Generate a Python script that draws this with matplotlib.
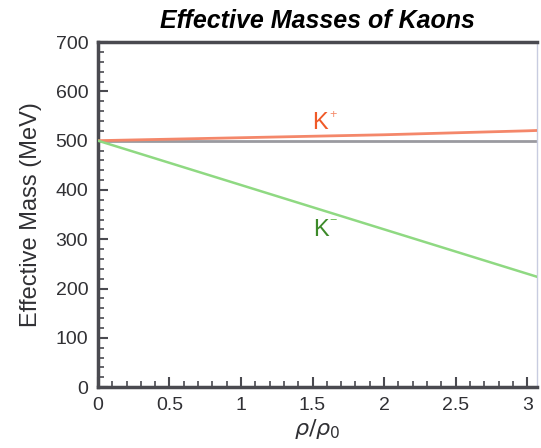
import matplotlib
matplotlib.use("Agg")
import matplotlib.pyplot as plt
from matplotlib.ticker import MultipleLocator

plt.rcParams['font.family'] = ['Liberation Sans', 'DejaVu Sans']

# density in units of normal nuclear density
density = [0.0, 0.5, 1.0, 1.5, 2.0, 2.5, 3.0, 3.1]
# effective masses (MeV)
kplus_mass = [500, 503, 506, 509, 512, 516, 520, 521]
kminus_mass = [500, 455, 410, 365, 320, 275, 230, 221]
vacuum_mass = [500, 500, 500, 500, 500, 500, 500, 500]

x_ticks = [0, 0.5, 1, 1.5, 2, 2.5, 3]
x_tick_labels = ["0", "0.5", "1", "1.5", "2", "2.5", "3"]
y_ticks = [0, 100, 200, 300, 400, 500, 600, 700]

fig = plt.figure(figsize=(5.41, 4.48), dpi=100)
ax = fig.add_axes([0.181, 0.136, 0.812, 0.77])

ax.plot(density, vacuum_mass, color="#9a9aa0", lw=2.0, zorder=2)
ax.plot(density, kplus_mass, color="#f4876a", lw=2.0, zorder=3)
ax.plot(density, kminus_mass, color="#8fd982", lw=1.8, zorder=3)

ax.text(1.55, 536, "K", color="#f05a28", fontsize=17, ha="center", va="center")
ax.text(1.64, 553, "+", color="#f58a6a", fontsize=9, ha="center", va="center")
ax.text(1.56, 318, "K", color="#3d8a2a", fontsize=17, ha="center", va="center")
ax.text(1.645, 337, "\u2212", color="#6fbf5a", fontsize=9, ha="center", va="center")

ax.set_xlim(0, 3.07)
ax.set_ylim(0, 700)
ax.set_xticks(x_ticks)
ax.set_xticklabels(x_tick_labels)
ax.set_yticks(y_ticks)
ax.xaxis.set_minor_locator(MultipleLocator(0.1))
ax.yaxis.set_minor_locator(MultipleLocator(20))

for side in ["left", "bottom", "top", "right"]:
    ax.spines[side].set_color("#4a4a50")
ax.spines["left"].set_linewidth(2.5)
ax.spines["bottom"].set_linewidth(2.5)
ax.spines["top"].set_linewidth(2.5)
ax.spines["right"].set_linewidth(1.0)
ax.spines["right"].set_color("#c8cce0")

ax.tick_params(which="major", direction="in", length=7, width=1.5, color="#4a4a50",
               labelsize=14, labelcolor="#303034", top=False, right=False, pad=7)
ax.tick_params(which="minor", direction="in", length=4, width=1.2, color="#4a4a50",
               top=False, right=False)

ax.set_title("Effective Masses of Kaons", fontsize=18, fontweight="bold",
             fontstyle="italic", pad=10)
ax.set_ylabel("Effective Mass (MeV)", fontsize=17, labelpad=10, color="#303034")
ax.set_xlabel(r"$\rho/\rho_0$", fontsize=16, labelpad=2, color="#303034")

fig.savefig("out.png", dpi=100)
